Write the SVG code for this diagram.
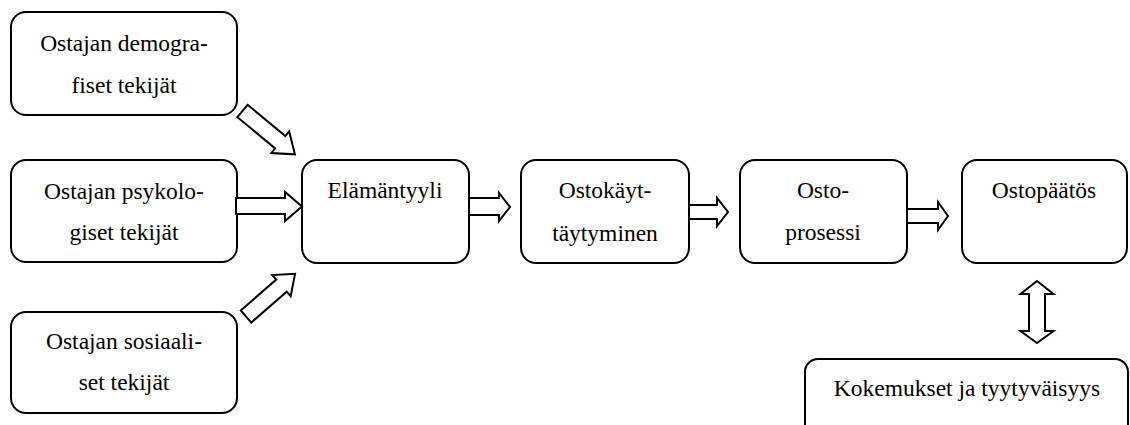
<svg xmlns="http://www.w3.org/2000/svg" width="1130" height="425" viewBox="0 0 1130 425">
<style>
.box{fill:#fff;stroke:#000;stroke-width:2}
.arr{fill:#fff;stroke:#000;stroke-width:2;stroke-linejoin:miter}
text{font-family:"Liberation Serif","Times New Roman",serif;font-size:23.5px;fill:#000;text-anchor:middle}
</style>
<rect width="1130" height="425" fill="#fff"/>
<g id="n1"><rect class="box" x="11" y="12" width="226" height="103" rx="15"/><text x="124" y="51">Ostajan demogra-</text><text x="124" y="93">fiset tekijät</text></g>
<g id="n2"><rect class="box" x="11" y="160" width="226" height="102" rx="15"/><text x="124" y="199">Ostajan psykolo-</text><text x="124" y="240">giset tekijät</text></g>
<g id="n3"><rect class="box" x="11" y="312" width="226" height="101" rx="15"/><text x="124" y="349">Ostajan sosiaali-</text><text x="124" y="390">set tekijät</text></g>
<g id="n4"><rect class="box" x="302" y="160" width="167" height="103" rx="15"/><text x="385" y="198">Elämäntyyli</text></g>
<g id="n5"><rect class="box" x="521" y="160" width="168" height="103" rx="15"/><text x="605" y="198">Ostokäyt-</text><text x="605" y="241">täytyminen</text></g>
<g id="n6"><rect class="box" x="740" y="160" width="167" height="103" rx="15"/><text x="823" y="198">Osto-</text><text x="823" y="240">prosessi</text></g>
<g id="n7"><rect class="box" x="962" y="160" width="165" height="103" rx="15"/><text x="1044" y="198">Ostopäätös</text></g>
<g id="n8"><rect class="box" x="805" y="359" width="323" height="90" rx="13"/><text x="967" y="396">Kokemukset ja tyytyväisyys</text></g>
<g id="connectors">
<polygon class="arr" transform="translate(242.5,111) rotate(39.6)" points="0,-8 49,-8 49,-14 68,0 49,14 49,8 0,8"/>
<polygon class="arr" transform="translate(246,316.5) rotate(-41)" points="0,-8 47,-8 47,-14 65,0 47,14 47,8 0,8"/>
<polygon class="arr" points="236,198 285,198 285,192 302,206.5 285,221 285,214 236,214"/>
<polygon class="arr" points="469,198 499,198 499,193 510,207 499,221 499,215 469,215"/>
<polygon class="arr" points="689,205 717,205 717,198 728,212 717,226 717,219 689,219"/>
<polygon class="arr" points="907,209 938,209 938,202 948,216 938,230 938,223 907,223"/>
<polygon class="arr" points="1037,281 1053.5,294 1045,294 1045,331 1053.5,331 1037,343 1020.5,331 1029,331 1029,294 1020.5,294"/>
</g>
</svg>
